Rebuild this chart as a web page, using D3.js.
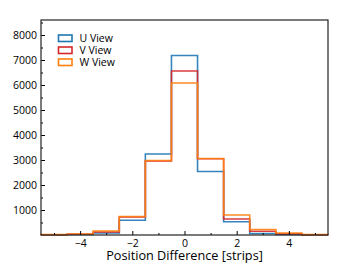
<!DOCTYPE html>
<html>
<head>
<meta charset="utf-8">
<script src="https://cdn.jsdelivr.net/npm/d3@7"></script>
<style>
body { margin: 0; background: #fff; }
text { font-family: "Open Sans", "DejaVu Sans", sans-serif; }
</style>
</head>
<body>
<div id="chart"></div>
<script>
var svgWidth = 349;
var svgHeight = 276;

var margin = { top: 20, bottom: 41, right: 21, left: 41 };
var width = svgWidth - margin.left - margin.right;
var height = svgHeight - margin.top - margin.bottom;

// bin centres, one strip wide
var binCenters = [-5, -4, -3, -2, -1, 0, 1, 2, 3, 4, 5];
var uView = [5, 20, 80, 590, 3240, 7180, 2540, 530, 60, 20, 5];
var vView = [10, 30, 120, 720, 2960, 6560, 3050, 640, 150, 50, 10];
var wView = [15, 40, 160, 740, 2980, 6080, 3060, 800, 220, 80, 15];

var seriesNames = ["U View", "V View", "W View"];
var seriesColors = ["#1f77b4", "#d62728", "#ff7f0e"];
var xTicks = [-4, -2, 0, 2, 4];
var yTicks = [1000, 2000, 3000, 4000, 5000, 6000, 7000, 8000];

var svg = d3.select("#chart")
  .append("svg")
  .attr("width", svgWidth)
  .attr("height", svgHeight);

var chartGroup = svg.append("g")
  .attr("transform", `translate(${margin.left}, ${margin.top})`);

var x = d3.scaleLinear().domain([-5.5, 5.5]).range([0, width]);
var y = d3.scaleLinear().domain([0, 8600]).range([height, 0]);

// step outlines
function stepPath(values) {
  var pts = [[x(binCenters[0] - 0.5), y(0)]];
  values.forEach(function(v, i) {
    pts.push([x(binCenters[i] - 0.5), y(v)]);
    pts.push([x(binCenters[i] + 0.5), y(v)]);
  });
  pts.push([x(binCenters[binCenters.length - 1] + 0.5), y(0)]);
  return d3.line()(pts);
}

[uView, vView, wView].forEach(function(vals, i) {
  chartGroup.append("path")
    .attr("d", stepPath(vals))
    .attr("fill", "none")
    .attr("stroke", seriesColors[i])
    .attr("stroke-width", 1.6)
    .attr("stroke-opacity", 0.9);
});

// axes, ticks pointing inward
var bottomAxis = d3.axisBottom(x).tickValues(xTicks).tickSize(-4).tickPadding(5)
  .tickFormat(function(d) { return d < 0 ? "\u2212" + Math.abs(d) : d; });
var xMinor = d3.axisBottom(x).tickValues(d3.range(-5, 6, 2)).tickSize(-2).tickFormat("");
var leftAxis = d3.axisLeft(y).tickValues(yTicks).tickSize(-4).tickPadding(4).tickFormat(d3.format("d"));
var yMinor = d3.axisLeft(y).tickValues(d3.range(500, 8600, 1000)).tickSize(-2).tickFormat("");

function styleAxis(g) {
  g.select(".domain").remove();
  g.selectAll("line").attr("stroke", "#000");
  g.selectAll("text").attr("font-size", 10.5).attr("fill", "#000")
    .attr("font-family", "'Open Sans', 'DejaVu Sans', sans-serif");
}

chartGroup.append("g").attr("transform", `translate(0, ${height})`).call(xMinor).call(styleAxis)
  .selectAll("text").remove();
chartGroup.append("g").attr("transform", `translate(0, ${height})`).call(bottomAxis).call(styleAxis);
chartGroup.append("g").call(yMinor).call(styleAxis).selectAll("text").remove();
chartGroup.append("g").call(leftAxis).call(styleAxis);

// frame
chartGroup.append("rect")
  .attr("width", width)
  .attr("height", height)
  .attr("fill", "none")
  .attr("stroke", "#222")
  .attr("stroke-width", 1.2);

// x label
chartGroup.append("text")
  .attr("x", width / 2)
  .attr("y", height + 24.5)
  .attr("text-anchor", "middle")
  .attr("font-size", 12.7)
  .text("Position Difference [strips]");

// legend
var legend = chartGroup.append("g").attr("transform", "translate(17.5, 15)");
seriesNames.forEach(function(name, i) {
  legend.append("rect")
    .attr("x", 0)
    .attr("y", i * 12)
    .attr("width", 13.5)
    .attr("height", 6.5)
    .attr("fill", "none")
    .attr("stroke", seriesColors[i])
    .attr("stroke-width", 1.6);
  legend.append("text")
    .attr("x", 21)
    .attr("y", i * 12 + 7.3)
    .attr("font-size", 10.5)
    .text(name);
});
</script>
</body>
</html>
